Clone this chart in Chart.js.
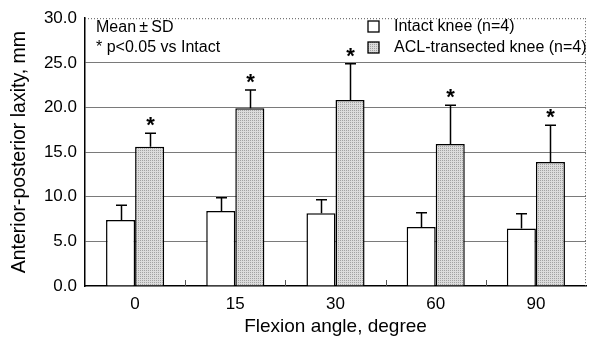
<!DOCTYPE html>
<html><head><meta charset="utf-8">
<script src="https://cdn.jsdelivr.net/npm/chart.js@4.4.0/dist/chart.umd.min.js"></script>
<style>html,body{margin:0;padding:0;background:#fff;} #wrap{width:593px;height:342px;}</style>
</head><body><div id="wrap"><canvas id="c" width="593" height="342"></canvas></div>
<script>
const categories = ['0', '15', '30', '60', '90'];
const intactMean = [7.4, 8.4, 8.15, 6.6, 6.45];
const intactSD = [1.65, 1.5, 1.5, 1.6, 1.65];
const aclMean = [15.6, 19.9, 20.85, 15.9, 13.9];
const aclSD = [1.5, 2.05, 4.05, 4.35, 4.1];
const significant = [true, true, true, true, true];
const seriesLabels = ['Intact knee (n=4)', 'ACL-transected knee (n=4)'];
const noteLines = ['Mean\u2009\u00B1\u2009SD', '* p<0.05 vs Intact'];
const yTitle = 'Anterior-posterior laxity, mm';
const xTitle = 'Flexion angle, degree';

const FONT = 'Liberation Sans, Arial, Helvetica, sans-serif';

function makePattern() {
  const p = document.createElement('canvas');
  p.width = 2; p.height = 2;
  const g = p.getContext('2d');
  g.fillStyle = '#dcdcdc'; g.fillRect(0, 0, 2, 2);
  g.fillStyle = '#a2a2a2';
  g.fillRect(0, 0, 1, 1);
  return document.getElementById('c').getContext('2d').createPattern(p, 'repeat');
}
const aclFill = makePattern();

const sdSets = [intactSD, aclSD];

const overlay = {
  id: 'overlay',
  afterDatasetsDraw(chart) {
    const ctx = chart.ctx;
    const y = chart.scales.y;
    ctx.save();
    ctx.strokeStyle = '#000';
    ctx.lineWidth = 1.5;
    chart.data.datasets.forEach((ds, di) => {
      const meta = chart.getDatasetMeta(di);
      meta.data.forEach((bar, i) => {
        const top = y.getPixelForValue(ds.data[i] + sdSets[di][i]);
        const x = Math.round(bar.x) + 0.5;
        ctx.beginPath();
        ctx.moveTo(x, bar.y);
        ctx.lineTo(x, top);
        ctx.moveTo(x - 5.5, top);
        ctx.lineTo(x + 5.5, top);
        ctx.stroke();
        if (di === 1 && significant[i]) {
          ctx.fillStyle = '#000';
          ctx.font = 'bold 22px ' + FONT;
          ctx.textAlign = 'center';
          ctx.textBaseline = 'alphabetic';
          ctx.fillText('*', x, top - 1);
        }
      });
    });
    ctx.restore();
  },
  afterDraw(chart) {
    const ctx = chart.ctx;
    const a = chart.chartArea;
    const xs = chart.scales.x;
    ctx.save();
    ctx.strokeStyle = '#555';
    ctx.lineWidth = 1;
    ctx.setLineDash([1, 2]);
    ctx.beginPath();
    ctx.moveTo(a.left, a.top + 0.5);
    ctx.lineTo(a.right, a.top + 0.5);
    ctx.moveTo(a.right - 0.5, a.top);
    ctx.lineTo(a.right - 0.5, a.bottom);
    ctx.stroke();
    ctx.setLineDash([]);
    ctx.strokeStyle = '#555';
    for (let i = 0; i < categories.length - 1; i++) {
      const x = Math.round(xs.getPixelForValue(i + 0.5)) + 0.5;
      ctx.beginPath();
      ctx.moveTo(x, a.bottom);
      ctx.lineTo(x, a.bottom - 6);
      ctx.stroke();
    }
    ctx.fillStyle = '#000';
    ctx.font = '16px ' + FONT;
    ctx.textAlign = 'left';
    ctx.textBaseline = 'middle';
    ctx.fillText(noteLines[0], a.left + 11, 28);
    ctx.fillText(noteLines[1], a.left + 11, 48);
    const fills = ['#fff', aclFill];
    const ys = [27, 48];
    for (let k = 0; k < 2; k++) {
      ctx.fillStyle = fills[k];
      ctx.fillRect(368, ys[k] - 6, 11, 11);
      ctx.strokeStyle = '#000';
      ctx.lineWidth = 1.3;
      ctx.strokeRect(368, ys[k] - 6, 11, 11);
      ctx.fillStyle = '#000';
      ctx.fillText(seriesLabels[k], 394, ys[k]);
    }
    ctx.restore();
  }
};

new Chart(document.getElementById('c'), {
  type: 'bar',
  data: {
    labels: categories,
    datasets: [
      { label: seriesLabels[0], data: intactMean, backgroundColor: '#fff', borderColor: '#000', borderWidth: 1.5 },
      { label: seriesLabels[1], data: aclMean, backgroundColor: aclFill, borderColor: '#000', borderWidth: 1.5 }
    ]
  },
  options: {
    responsive: false,
    animation: false,
    devicePixelRatio: 1,
    categoryPercentage: 0.58,
    barPercentage: 1.0,
    layout: { padding: { top: 16, right: 7, left: 0, bottom: 0 } },
    plugins: { legend: { display: false }, tooltip: { enabled: false } },
    scales: {
      x: {
        grid: { display: false, drawTicks: false },
        border: { display: true, color: '#000', width: 1.5 },
        ticks: { color: '#000', font: { family: FONT, size: 17 }, padding: 8 },
        title: { display: true, text: xTitle, color: '#000', font: { family: FONT, size: 19 }, padding: { top: 0, bottom: 4 } },
        afterFit(s) { s.height = 56; }
      },
      y: {
        min: 0, max: 30,
        grid: {
          drawTicks: false,
          lineWidth: 1,
          color: (c) => (c.tick && (c.tick.value === 0 || c.tick.value === 30)) ? 'rgba(0,0,0,0)' : '#7a7a7a'
        },
        border: { display: true, color: '#000', width: 1.5 },
        ticks: { stepSize: 5, color: '#000', font: { family: FONT, size: 17 }, padding: 8, callback: (v) => Number(v).toFixed(1) },
        title: { display: true, text: yTitle, color: '#000', font: { family: FONT, size: 19.5 }, padding: 8 },
        afterFit(s) { s.width = 85; }
      }
    }
  },
  plugins: [overlay]
});
</script></body></html>
